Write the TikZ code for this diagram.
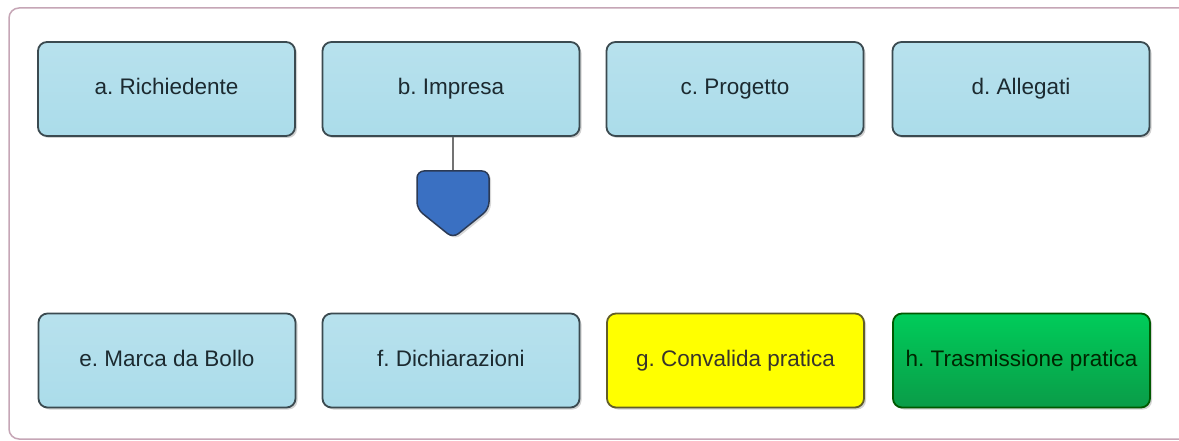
\documentclass[tikz,border=0pt]{standalone}
\usepackage{fontspec}
\setmainfont{Liberation Sans}
\usetikzlibrary{shadows}
\definecolor{boxblue}{HTML}{ABDCEA}
\definecolor{boxline}{HTML}{3B4A50}
\definecolor{boxtext}{HTML}{1C2A30}
\definecolor{framecol}{HTML}{C6A6B6}
\definecolor{pinblue}{HTML}{3A70C2}
\definecolor{pinline}{HTML}{2B3A55}
\definecolor{sendtop}{HTML}{00CC5A}
\definecolor{sendbot}{HTML}{0A9C48}

\begin{document}
\frenchspacing
\begin{tikzpicture}[x=1pt,y=-1pt,
  step box/.style={draw=boxline, line width=1.8pt, rounded corners=9pt,
    minimum width=257pt, minimum height=94pt, inner sep=0pt,
    font=\fontsize{22.5}{26}\selectfont, text=boxtext,
    text height=16pt, text depth=4pt,
    drop shadow={shadow xshift=2pt, shadow yshift=-2pt, opacity=0.35},
    top color=boxblue!85!white, bottom color=boxblue},
  check box/.style={step box, draw=olive!60!black, top color=yellow, bottom color=yellow,
    text=black!80!olive},
  send box/.style={step box, draw=green!35!black, top color=sendtop,
    bottom color=sendbot, text=green!15!black}]
\useasboundingbox (0,0) rectangle (1179,441);
\fill[white] (0,0) rectangle (1179,441);
\begin{scope}
\clip (0,0) rectangle (1179,441);
\draw[framecol, line width=1.5pt, rounded corners=10pt] (9,8) rectangle (1195,439);
\end{scope}
% top row
\node[step box] (ric) at (166.5,89) {a. Richiedente};
\node[step box] (imp) at (451,89) {b. Impresa};
\node[step box] (pro) at (735,89) {c. Progetto};
\node[step box] (all) at (1021,89) {d. Allegati};
% bottom row
\node[step box] (mar) at (167,360.5) {e. Marca da Bollo};
\node[step box] (dic) at (451,360.5) {f. Dichiarazioni};
\node[check box] (con) at (735.5,360.5) {g. Convalida pratica};
\node[send box] (tra) at (1021.5,360.5) {h. Trasmissione pratica};
% pointer under b.
\coordinate (pin) at (453,171);
\draw[black!55, line width=2pt] (imp.south -| pin) -- (pin);
\draw[pinline, line width=1.5pt, fill=pinblue, rounded corners=7pt,
  drop shadow={shadow xshift=2pt, shadow yshift=-2pt, opacity=0.3}]
  (417,171) -- (489,171) -- (489,209) -- (453,238) -- (417,209) -- cycle;
\end{tikzpicture}
\end{document}
